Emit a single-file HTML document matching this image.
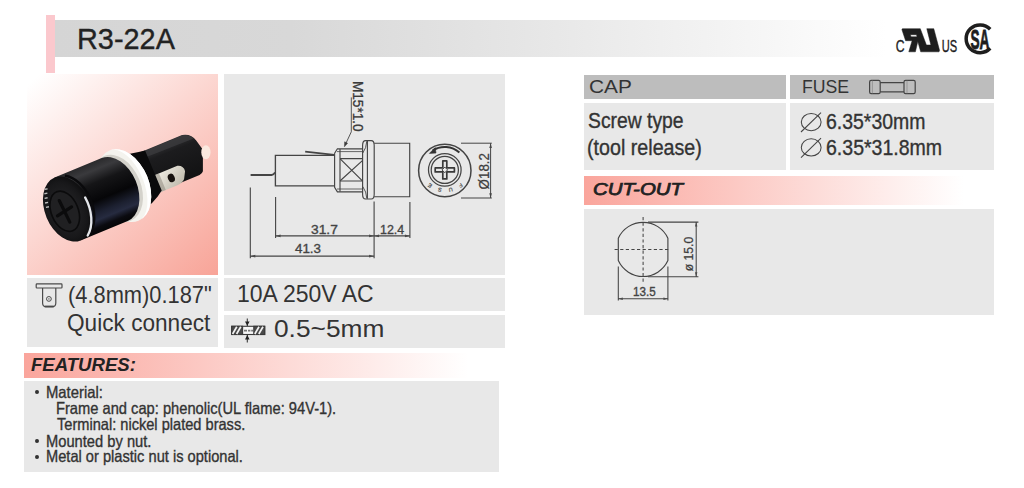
<!DOCTYPE html>
<html lang="en">
<head>
<meta charset="utf-8">
<title>R3-22A Fuse Holder</title>
<style>
  html, body { margin: 0; padding: 0; background: #ffffff; }
  body { width: 1024px; height: 488px; position: relative; overflow: hidden;
         font-family: "Liberation Sans", sans-serif; color: #222; }
  .abs { position: absolute; }
  .panel { position: absolute; background: #e8e8e8; }
  .hdr { position: absolute; background: #bdbdbd; }
  .t { position: absolute; white-space: nowrap; line-height: 1; transform-origin: 0 0; margin: 0; padding: 0; -webkit-text-stroke: 0.35px currentColor; }
  svg { position: absolute; left: 0; top: 0; overflow: visible; }
</style>
</head>
<body>

<!-- ===== title bar ===== -->
<div class="abs" style="left:55px; top:20.2px; width:945px; height:36.5px; background:linear-gradient(90deg,#d5d5d5 0%,#d8d8d8 25%,#e6e6e6 50%,#f6f6f6 75%,#ffffff 88%);"></div>
<div class="abs" style="left:46.1px; top:15px; width:9px; height:57.6px; background:#fbc8cd;"></div>

<!-- ===== left column panels ===== -->
<div class="abs" id="photo" style="left:27px; top:74px; width:190.5px; height:200.5px; background:linear-gradient(138deg,#ffffff 0%,#ffffff 3%,#f8a498 100%);"></div>
<div class="panel" style="left:223.75px; top:74px; width:280.75px; height:200.5px;"></div>
<div class="panel" style="left:27px; top:277.5px; width:190.5px; height:69.5px;"></div>
<div class="panel" style="left:223.75px; top:278px; width:280.75px; height:33.2px;"></div>
<div class="panel" style="left:223.75px; top:315px; width:280.75px; height:33px;"></div>

<!-- FEATURES -->
<div class="abs" style="left:24.25px; top:352.5px; width:444px; height:25.5px; background:linear-gradient(90deg,#faa59c 0%,#ffffff 100%);"></div>
<div class="panel" style="left:24.25px; top:380.5px; width:474.75px; height:91.5px;"></div>

<!-- ===== right column ===== -->
<div class="hdr" style="left:584.25px; top:75.3px; width:202px; height:23.9px;"></div>
<div class="hdr" style="left:790px; top:75.3px; width:203.75px; height:23.9px;"></div>
<div class="panel" style="left:584.25px; top:103px; width:202px; height:67px;"></div>
<div class="panel" style="left:790px; top:103px; width:203.75px; height:67px;"></div>
<div class="abs" style="left:584.25px; top:175.5px; width:409.5px; height:29px; background:linear-gradient(90deg,#faa59c 0%,#ffffff 92.5%);"></div>
<div class="panel" style="left:584.25px; top:208.75px; width:409.5px; height:105.8px;"></div>

<div class="t" style="left:76.79px; top:24.28px; font-size:29.5px; color:#222; transform:scaleX(0.9786);">R3-22A</div>
<div class="t" style="left:67.79px; top:283.38px; font-size:24.0px; color:#333; transform:scaleX(0.9098); -webkit-text-stroke-width:0px;">(4.8mm)0.187&quot;</div>
<div class="t" style="left:67.02px; top:312.28px; font-size:23.0px; color:#333; transform:scaleX(0.9838); -webkit-text-stroke-width:0px;">Quick connect</div>
<div class="t" style="left:236.62px; top:282.91px; font-size:23.5px; color:#333; transform:scaleX(0.9774); -webkit-text-stroke-width:0px;">10A 250V AC</div>
<div class="t" style="left:274.00px; top:317.51px; font-size:23.5px; color:#333; transform:scaleX(1.1188); -webkit-text-stroke-width:0px;">0.5~5mm</div>
<div class="t" style="left:31.00px; top:357.19px; font-size:17.5px; color:#222; transform:scaleX(1.0611); -webkit-text-stroke-width:0px; font-weight:bold; font-style:italic;">FEATURES:</div>
<div class="t" style="left:45.60px; top:383.78px; font-size:16.5px; color:#333; transform:scaleX(0.8996);">Material:</div>
<div class="t" style="left:55.86px; top:400.03px; font-size:16.5px; color:#333; transform:scaleX(0.8897);">Frame and cap: phenolic(UL flame: 94V-1).</div>
<div class="t" style="left:56.75px; top:416.03px; font-size:16.5px; color:#333; transform:scaleX(0.8849);">Terminal: nickel plated brass.</div>
<div class="t" style="left:45.61px; top:432.53px; font-size:16.5px; color:#333; transform:scaleX(0.8908);">Mounted by nut.</div>
<div class="t" style="left:45.61px; top:448.28px; font-size:16.5px; color:#333; transform:scaleX(0.8871);">Metal or plastic nut is optional.</div>
<div class="t" style="left:588.75px; top:78.94px; font-size:17.5px; color:#333; transform:scaleX(1.1894); -webkit-text-stroke-width:0px;">CAP</div>
<div class="t" style="left:802.05px; top:78.24px; font-size:18.5px; color:#333; transform:scaleX(0.9541); -webkit-text-stroke-width:0px;">FUSE</div>
<div class="t" style="left:588.40px; top:111.00px; font-size:21.5px; color:#333; transform:scaleX(0.8985);">Screw type</div>
<div class="t" style="left:587.48px; top:138.20px; font-size:21.5px; color:#333; transform:scaleX(0.9155);">(tool release)</div>
<div class="t" style="left:825.90px; top:112.10px; font-size:21.5px; color:#333; transform:scaleX(0.9043);">6.35*30mm</div>
<div class="t" style="left:825.89px; top:137.80px; font-size:21.5px; color:#333; transform:scaleX(0.9081);">6.35*31.8mm</div>
<div class="t" style="left:593.00px; top:181.36px; font-size:17.0px; color:#222; transform:scaleX(1.2018); -webkit-text-stroke-width:0.75px; font-style:italic;">CUT-OUT</div>
<div class="t" style="left:311.30px; top:222.80px; font-size:13.0px; color:#444; transform:scaleX(1.0605);">31.7</div>
<div class="t" style="left:380.20px; top:222.80px; font-size:13.0px; color:#444; transform:scaleX(0.9568);">12.4</div>
<div class="t" style="left:295.30px; top:242.40px; font-size:13.0px; color:#444; transform:scaleX(1.0286);">41.3</div>
<div class="t" style="left:633.00px; top:285.54px; font-size:12.0px; color:#444; transform:scaleX(0.9711);">13.5</div>
<div class="abs" style="left:35.20px; top:390.30px; width:3.8px; height:3.8px; border-radius:50%; background:#333;"></div>
<div class="abs" style="left:35.20px; top:439.10px; width:3.8px; height:3.8px; border-radius:50%; background:#333;"></div>
<div class="abs" style="left:35.20px; top:454.90px; width:3.8px; height:3.8px; border-radius:50%; background:#333;"></div>

<!-- ===== vector art ===== -->
<svg width="1024" height="488" viewBox="0 0 1024 488" font-family="Liberation Sans, sans-serif">
<defs>
  <linearGradient id="capShade" x1="0" y1="0" x2="0" y2="1">
    <stop offset="0" stop-color="#2a2a2c"/>
    <stop offset="0.12" stop-color="#3a3a3d"/>
    <stop offset="0.3" stop-color="#151517"/>
    <stop offset="0.55" stop-color="#060608"/>
    <stop offset="0.72" stop-color="#1c2030"/>
    <stop offset="0.82" stop-color="#262b40"/>
    <stop offset="0.92" stop-color="#0b0b10"/>
    <stop offset="1" stop-color="#050506"/>
  </linearGradient>
  <linearGradient id="bodyShade" x1="0" y1="0" x2="0" y2="1">
    <stop offset="0" stop-color="#343436"/>
    <stop offset="0.25" stop-color="#1c1c1e"/>
    <stop offset="1" stop-color="#121213"/>
  </linearGradient>
  <radialGradient id="faceShade" cx="0.45" cy="0.5" r="0.6">
    <stop offset="0" stop-color="#2a2a2d"/>
    <stop offset="0.7" stop-color="#18181a"/>
    <stop offset="1" stop-color="#0a0a0b"/>
  </radialGradient>
  <linearGradient id="metal" x1="0" y1="0" x2="1" y2="1">
    <stop offset="0" stop-color="#f4f1e8"/>
    <stop offset="1" stop-color="#b9b4a6"/>
  </linearGradient>
</defs>

<!-- ================= PHOTO (fuse holder) ================= -->
<g id="photoart" transform="translate(67.6,209) rotate(-22.5)">
  <!-- rear body -->
  <path d="M70,-24.5 L134,-24.5 Q143,-22.5 145,-14 L147.7,-3 L139.4,17 Q138,19 135,19 L70,19 Z" fill="url(#bodyShade)"/>
  <path d="M88,-24 L134,-24 Q141,-22.5 143.5,-17 L88,-18 Z" fill="#3b3b3d" opacity="0.8"/>
  <!-- tip -->
  <ellipse cx="149.5" cy="0.5" rx="4.6" ry="7" fill="#fbe9df" transform="rotate(22.5 149.5 0.5)"/>
  <!-- terminal tab -->
  <path d="M90,2 L118,2 Q124,4 123,10 L119,17 Q116,20 110,20 L90,20 Z" fill="url(#metal)"/>
  <path d="M90,2 L98,2 L98,20 L90,20 Z" fill="#8f8b80" opacity="0.55"/>
  <ellipse cx="107.7" cy="11" rx="3.4" ry="4.4" fill="#17120f"/>
  <!-- collar / nut behind flange -->
  <path d="M56,-31 L80,-27 Q88,-25.5 94,-24.5 L94,19 L88,23 L80,27 L56,31 Z" fill="#0a0a0b"/>
  <!-- white flange ring -->
  <ellipse cx="61" cy="0" rx="25" ry="38" fill="#f4f3ee"/>
  <path d="M61,-38 A25,38 0 0 1 61,38 A20,38 0 0 0 61,-38 Z" fill="#ffffff"/>
  <ellipse cx="54" cy="0" rx="23.5" ry="35" fill="#d4d2cb"/>
  <!-- cap cylinder -->
  <path d="M0,-34 L51,-34 A22.7,34 0 0 1 51,34 L0,34 Z" fill="url(#capShade)"/>
  <!-- front face -->
  <ellipse cx="0" cy="0" rx="22.7" ry="34" fill="url(#faceShade)"/>
  <path d="M8,-31.8 A22.7,34 0 0 1 8,31.8" fill="none" stroke="#0a0a0c" stroke-width="2.4" transform="translate(2.2,0)"/>
  <path d="M19.2,-4 A22.7,34 0 0 1 7,32.2" fill="none" stroke="#e4e6ea" stroke-width="2.3" transform="translate(1.4,0)" stroke-linecap="round"/>
  <ellipse cx="-3.5" cy="1" rx="13.5" ry="21" fill="#202022" stroke="#0b0b0c" stroke-width="1.6"/>
  <!-- cross slot -->
  <path d="M-4.5,-11 L-3,13 M-12,2.5 L4.5,-0.5" stroke="#0b0b0c" stroke-width="3.2" stroke-linecap="round" fill="none"/>
  <!-- tiny lettering on rim -->
  <path d="M-15.6,-23 L-12.6,-22.4 M-17.2,-18.6 L-14.2,-18 M-18.5,-14.2 L-15.5,-13.6 M-19.4,-9.8 L-16.4,-9.2 M-13.6,-27 L-10.8,-26.2" stroke="#dcdcdc" stroke-width="1.4" fill="none" opacity="0.85"/>
</g>

<!-- ================= SIDE VIEW DRAWING ================= -->
<g fill="none" stroke="#444" stroke-width="1.15" stroke-linecap="butt">
  <!-- rear wire terminal -->
  <path d="M250.6,175 L271.6,175 Q273.8,174.8 275,172.4" stroke-width="1.8"/>
  <!-- upper terminal -->
  <path d="M305.2,151.7 L334.2,154.8" stroke-width="1.8"/>
  <!-- body -->
  <path d="M334.6,155.4 L275.4,155.4 L275.4,185.8 L334.6,185.8" stroke-width="1.35"/>
  <!-- threaded section -->
  <path d="M334.6,153.2 L337.4,148.8 L362.6,148.8 M334.6,153.2 L334.6,187.4 L337.4,191.8 L362.6,191.8"/>
  <path d="M340,149 L340,191.6"/>
  <path d="M337,151.6 L362.6,151.6 M337,189 L362.6,189" stroke-width="0.8"/>
  <path d="M340,158.6 L362.6,158.6 M340,181 L362.6,181"/>
  <path d="M340.2,158.8 L362.4,180.8 M362.4,160.6 L340.2,180.8"/>
  <!-- flange -->
  <path d="M362.6,145.4 Q362.6,140.6 365.6,140.6 L371.2,140.6 Q374.2,140.6 374.2,145.4 L374.2,194.2 Q374.2,199 371.2,199 L365.6,199 Q362.6,199 362.6,194.2 Z"/>
  <path d="M367.4,140.8 L367.4,198.8"/>
  <path d="M362.8,153 Q366.4,148 366.8,141.2 M362.8,186.6 Q366.4,191.6 366.8,198.4" stroke-width="0.9"/>
  <!-- cap -->
  <path d="M374.2,143.2 L409.7,143.2 L409.7,196.7 L374.2,196.7"/>
  <!-- leader for M15*1.0 -->
  <path d="M351.3,97.4 L351.3,131.8 L345.6,144" stroke-width="0.9"/>
  <path d="M344.4,146.8 L344.6,141.8 L347.6,143.2 Z" fill="#3c3c3c" stroke-width="0.5"/>
  <!-- dimension extension lines -->
  <path d="M250.3,187.5 L250.3,258.2 M275.6,197 L275.6,238 M374.1,201.6 L374.1,258.2 M409.9,202 L409.9,238" stroke-width="1.1"/>
  <!-- dimension lines -->
  <path d="M275.6,235.9 L409.9,235.9 M250.3,256.2 L374.1,256.2" stroke-width="1.2"/>
</g>
<g fill="#4a4a4a" stroke="none">
  <path d="M275.6,235.9 l5,-1.4 v2.8 z M374.1,235.9 l-5,-1.4 v2.8 z M374.1,235.9 l5,-1.4 v2.8 z M409.9,235.9 l-5,-1.4 v2.8 z"/>
  <path d="M250.3,256.2 l5,-1.4 v2.8 z M374.1,256.2 l-5,-1.4 v2.8 z"/>
</g>
<text transform="translate(352.9,80.9) rotate(90)" font-size="14.6" fill="#3a3a3a" stroke="#3a3a3a" stroke-width="0.3" textLength="50.8" lengthAdjust="spacingAndGlyphs">M15*1.0</text>

<!-- ================= FRONT VIEW ================= -->
<g fill="none" stroke="#444" stroke-width="1">
  <circle cx="444.8" cy="170.5" r="26.2" stroke-width="1.5"/>
  <circle cx="444.8" cy="169.9" r="16.3" stroke-width="1.25"/>
  <circle cx="444.8" cy="169.9" r="13.6" stroke-width="1.25"/>
  <!-- phillips cross -->
  <path d="M442.8,160.9 h4 v7 h7.6 v4 h-7.6 v7 h-4 v-7 h-7.6 v-4 h7.6 z" stroke-width="1.7" stroke-linejoin="round" stroke="#3a3a3a"/>
  <path d="M444.8,167.1 l2.8,2.8 l-2.8,2.8 l-2.8,-2.8 z" stroke-width="1" fill="#f0f0f0" stroke="#3a3a3a"/>
  <!-- rotation arrow -->
  <path d="M432.6,150.6 A22.2,22.2 0 0 1 459.4,152.6" stroke-width="2" stroke="#333"/>
  <path d="M429.4,153.4 L435.2,147.6 L436,153 Z" fill="#333" stroke="#333" stroke-width="0.6"/>
  <!-- dia 18.2 dimension -->
  <path d="M461,143.2 L491.8,143.2 M461,198 L491.8,198 M490.6,143.2 L490.6,198" stroke-width="1"/>
</g>
<g fill="#444" stroke="none">
  <path d="M490.6,143.2 l-1.3,4.8 h2.6 z M490.6,198 l-1.3,-4.8 h2.6 z"/>
</g>
<path id="fusearc" d="M460.80,182.92 A25.0,25.0 0 0 1 429.80,182.92" fill="none" stroke="none"/>
<text font-size="5.4" fill="#444" stroke="#444" stroke-width="0.2"><textPath href="#fusearc" textLength="33.4" lengthAdjust="spacing">FUSE</textPath></text>
<text transform="translate(489,189.4) rotate(-90)" font-size="14.5" fill="#3c3c3c" stroke="#3c3c3c" stroke-width="0.25" textLength="36.4" lengthAdjust="spacingAndGlyphs">Ø18.2</text>

<!-- ================= CUT-OUT DRAWING ================= -->
<g fill="none" stroke="#444" stroke-width="1.15">
  <path d="M618.3,238.2 A27.3,27.3 0 0 1 667.9,238.2 L667.9,260.6 A27.3,27.3 0 0 1 618.3,260.6 Z"/>
  <path d="M643.1,217 L643.1,283" stroke-width="1.05" stroke-dasharray="3.2,2.4"/>
  <path d="M614.6,249.4 L669.4,249.4" stroke-width="1.05" stroke-dasharray="3.2,2.4"/>
  <path d="M648,222.1 L698.4,222.1 M648,276.7 L698.4,276.7 M696.2,222.1 L696.2,276.7" stroke-width="1.05"/>
  <path d="M618.3,266.6 L618.3,300.6 M667.9,266.6 L667.9,300.6 M618.3,298.8 L667.9,298.8" stroke-width="1.05"/>
</g>
<g fill="#4a4a4a" stroke="none">
  <path d="M696.2,222.1 l-1.2,4.5 h2.4 z M696.2,276.7 l-1.2,-4.5 h2.4 z"/>
  <path d="M618.3,298.8 l4.5,-1.2 v2.4 z M667.9,298.8 l-4.5,-1.2 v2.4 z"/>
</g>
<text transform="translate(693.4,271.2) rotate(-90)" font-size="12.5" fill="#3c3c3c" stroke="#3c3c3c" stroke-width="0.25" textLength="34.4" lengthAdjust="spacingAndGlyphs">ø 15.0</text>

<!-- ================= ICONS ================= -->
<!-- quick-connect terminal -->
<g fill="none" stroke="#4a4a4a" stroke-width="1.2" stroke-linejoin="round">
  <rect x="36.2" y="283.9" width="25.8" height="4.1" rx="0.8"/>
  <path d="M42.6,288 L42.6,303.2 Q42.8,306.6 46,306.7 L52.4,306.7 Q55.6,306.6 55.8,303.2 L55.8,288"/>
  <path d="M44.6,306.5 L53.8,306.5" stroke-width="1.8"/>
  <circle cx="48.9" cy="298.9" r="2.4" stroke-width="1"/>
  <circle cx="48.9" cy="298.9" r="0.7" fill="#4a4a4a" stroke="none"/>
</g>
<!-- panel thickness -->
<g stroke="#3a3a3a" stroke-width="1.1" fill="none">
  <rect x="231.7" y="326.3" width="33" height="8.2" fill="#f6f6f6"/>
  <rect x="231.7" y="326.3" width="10.9" height="8.2" fill="#4a4a4a"/>
  <rect x="253.8" y="326.3" width="10.9" height="8.2" fill="#4a4a4a"/>
  <path d="M232.6,334 L236.8,326.8 M236.6,334 L240.8,326.8 M254.8,334 L259,326.8 M258.8,334 L263,326.8" stroke="#f2f2f2" stroke-width="1.7"/>
  <path d="M244,330.6 L247,330.6 M248,330.6 L250.4,330.6 M251.2,330.6 L253,330.6" stroke="#777" stroke-width="1.8"/>
  <path d="M247.3,318.4 L247.3,326 M247.3,334.6 L247.3,342.6" stroke-width="1.1"/>
  <path d="M247.3,325.8 l-2.3,-4.4 h4.6 z M247.3,335 l-2.3,4.4 h4.6 z" fill="#222" stroke="none"/>
</g>
<!-- fuse symbol -->
<g fill="none" stroke="#444" stroke-width="1.2">
  <rect x="869.6" y="80.3" width="10.6" height="13.4" rx="1.6"/>
  <rect x="904" y="80.3" width="11.2" height="13.4" rx="1.6"/>
  <path d="M880.2,82.6 L904,82.6 M880.2,91.8 L904,91.8"/>
  <path d="M872.4,80.6 L872.4,93.4 M907,80.6 L907,93.4" stroke="#888" stroke-width="0.7"/>
</g>
<!-- diameter symbols -->
<g fill="none" stroke="#444" stroke-width="1.05">
  <ellipse cx="811.2" cy="122.1" rx="9.9" ry="8.6"/>
  <path d="M801,132 L821,112.6"/>
  <ellipse cx="811.2" cy="147.4" rx="9.9" ry="8.6"/>
  <path d="M801,157.6 L821,138.2"/>
</g>

<!-- ================= CERTIFICATION MARKS ================= -->
<g fill="#1e1e1e">
  <text x="895.7" y="51.9" font-size="16" stroke="#1e1e1e" stroke-width="0.35" textLength="8.8" lengthAdjust="spacingAndGlyphs">C</text>
  <text x="941.8" y="51.9" font-size="16" stroke="#1e1e1e" stroke-width="0.35" textLength="15.4" lengthAdjust="spacingAndGlyphs">US</text>
  <!-- UL recognized-component mark (reversed R joined to U) -->
  <path fill-rule="evenodd" stroke="#1e1e1e" stroke-width="0.5" stroke-linejoin="round"
        d="M902.4,28.7 L920.3,28.7 L926.4,45 L930.9,45 L926.8,28.7 L933.8,28.7 L939.6,50.6 L939,51.8
           L920.7,51.8 L917.8,41.5 L915.4,51.8 L908.8,51.8 L912.1,40.7 L905.6,40.7 L901.9,29.6 Z
           M910.4,34.7 L916.5,34.7 L917,36.8 L911,36.8 Z"/>
</g>
<!-- CSA -->
<path d="M990.2,29.3 A13.9,13.9 0 1 0 990.2,48.3" fill="none" stroke="#1e1e1e" stroke-width="3.5"/>
<text x="970.5" y="48.8" font-size="27.5" font-weight="bold" fill="#1e1e1e" stroke="#1e1e1e" stroke-width="0.8" textLength="19" lengthAdjust="spacingAndGlyphs">SA</text>

</svg>

</body>
</html>
